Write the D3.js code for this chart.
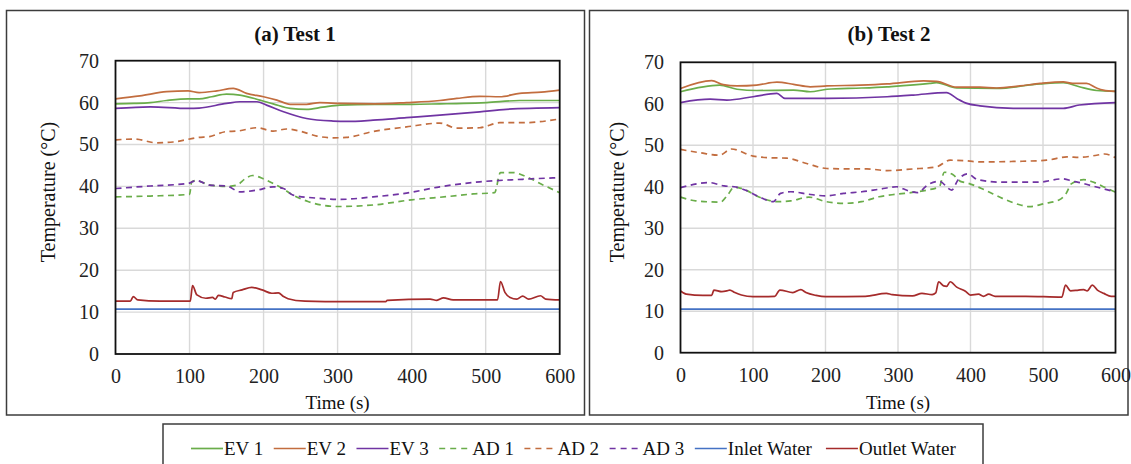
<!DOCTYPE html>
<html><head><meta charset="utf-8">
<script src="https://cdn.jsdelivr.net/npm/d3@7"></script>
<style>
html,body{margin:0;padding:0;background:#fff;}
svg{display:block;font-family:"Liberation Serif","Times New Roman",serif;}
</style></head>
<body><svg id="chart" width="1131" height="464"></svg>
<script>
// ---------- DATA ----------
const seriesNames = ["EV 1","EV 2","EV 3","AD 1","AD 2","AD 3","Inlet Water","Outlet Water"];
const xTicks = [0,100,200,300,400,500,600];
const yTicks = [0,10,20,30,40,50,60,70];
const panelTitles = ["(a) Test 1","(b) Test 2"];

// Test 1: [time (s), temperature (°C)]
const t1_EV1 = [[0,59.7],[25,59.8],[47,60.0],[69,60.5],[98,60.9],[113,60.9],[130,61.4],[150,62.0],[168,61.8],[195,60.6],[213,59.7],[236,58.6],[258,58.4],[280,58.9],[303,59.4],[350,59.6],[400,59.6],[438,59.7],[470,59.8],[501,60.0],[546,60.5],[600,60.5]];
const t1_EV2 = [[0,60.9],[33,61.6],[69,62.6],[98,62.8],[113,62.4],[137,62.8],[159,63.4],[177,62.2],[200,61.4],[218,60.6],[236,59.6],[258,59.6],[276,60.0],[303,59.8],[350,59.7],[393,60.0],[438,60.5],[461,61.0],[492,61.5],[519,61.4],[546,62.2],[575,62.5],[600,63.0]];
const t1_EV3 = [[0,58.6],[47,59.0],[98,58.6],[113,58.7],[150,59.8],[168,60.2],[191,60.2],[204,59.4],[227,57.8],[258,56.2],[294,55.6],[312,55.5],[348,55.8],[393,56.4],[438,57.0],[492,57.8],[528,58.4],[600,58.8]];
const t1_AD1 = [[0,37.5],[47,37.7],[100,38.1],[103,41.1],[109,41.4],[127,40.3],[150,40.0],[164,40.3],[175,41.8],[185,42.6],[200,41.8],[213,40.7],[226,39.5],[240,37.9],[260,36.4],[300,35.2],[350,35.6],[400,36.8],[450,37.6],[483,38.2],[512,38.5],[520,43.3],[537,43.3],[555,42.3],[578,40.3],[600,38.5]];
const t1_AD2 = [[0,51.1],[25,51.3],[56,50.4],[78,50.6],[113,51.7],[127,51.9],[150,53.1],[164,53.2],[191,54.0],[213,53.2],[231,53.7],[249,53.2],[272,52.0],[294,51.6],[312,51.7],[348,53.1],[393,54.2],[438,55.1],[461,53.9],[492,54.0],[519,55.2],[550,55.2],[600,56.1]];
const t1_AD3 = [[0,39.5],[47,40.1],[98,40.7],[109,41.4],[127,40.3],[150,40.1],[168,38.7],[191,39.1],[213,39.9],[227,39.5],[240,37.9],[272,37.2],[303,36.9],[348,37.5],[393,38.4],[438,39.9],[492,41.1],[550,41.7],[600,42.1]];
const t1_In  = [[0,10.7],[600,10.7]];
const t1_Out = [[0,12.6],[20,12.6],[24,13.7],[30,12.9],[60,12.6],[101,12.6],[104,16.3],[110,14.1],[122,13.3],[131,13.5],[135,13.1],[139,14.0],[148,13.6],[157,13.2],[159,14.7],[171,15.3],[184,15.9],[198,15.3],[211,14.5],[220,14.6],[227,13.7],[233,13.2],[256,12.6],[283,12.5],[365,12.5],[367,12.8],[425,13.1],[434,12.8],[443,13.4],[456,12.9],[516,12.9],[520,17.3],[526,14.7],[533,13.5],[542,13.1],[550,13.8],[558,13.1],[574,13.9],[581,13.1],[600,12.9]];

// Test 2
const t2_EV1 = [[0,62.9],[54,64.5],[78,63.5],[105,63.2],[156,63.3],[179,62.9],[202,63.5],[250,63.8],[285,64.1],[344,64.9],[353,65.1],[381,63.8],[436,63.7],[496,64.8],[528,65.1],[550,64.1],[574,63.2],[600,63.0]];
const t2_EV2 = [[0,63.7],[43,65.6],[59,64.6],[78,64.3],[105,64.5],[133,65.2],[156,64.7],[179,64.1],[202,64.3],[248,64.5],[285,64.8],[335,65.5],[353,65.4],[381,64.0],[413,64.0],[436,63.8],[468,64.3],[496,64.9],[528,65.3],[541,64.9],[560,64.9],[574,63.8],[583,63.3],[600,63.0]];
const t2_EV3 = [[0,60.3],[41,61.1],[64,60.9],[100,61.7],[133,62.5],[144,61.3],[202,61.3],[285,61.7],[321,62.1],[367,62.7],[381,61.3],[395,60.1],[413,59.5],[459,58.9],[528,58.9],[550,59.7],[600,60.3]];
const t2_AD1 = [[0,37.5],[21,36.6],[55,36.3],[65,38.0],[74,39.9],[84,39.6],[113,37.2],[133,36.4],[152,36.6],[177,37.5],[201,36.4],[225,36.0],[250,36.4],[274,37.6],[298,38.2],[323,38.7],[340,39.2],[357,40.0],[364,43.5],[376,42.9],[386,41.3],[396,40.9],[420,39.2],[444,37.2],[469,35.6],[481,35.2],[503,36.0],[522,36.8],[532,38.4],[539,40.7],[556,41.7],[571,41.0],[585,39.9],[600,38.7]];
const t2_AD2 = [[0,49.0],[27,48.2],[54,47.6],[70,49.1],[100,47.4],[123,47.0],[146,46.9],[174,45.6],[202,44.4],[230,44.3],[257,44.3],[285,43.9],[321,44.3],[353,44.8],[372,46.4],[390,46.3],[413,46.0],[459,46.1],[505,46.4],[533,47.2],[551,47.1],[574,47.6],[585,47.9],[600,47.0]];
const t2_AD3 = [[0,39.8],[40,41.0],[60,40.2],[74,40.0],[89,39.2],[108,37.6],[128,36.4],[138,38.4],[152,38.8],[177,38.2],[201,37.8],[225,38.4],[250,38.8],[274,39.4],[298,40.0],[313,39.1],[327,38.6],[342,40.6],[357,41.3],[374,39.2],[383,41.7],[396,43.1],[410,41.7],[444,41.1],[493,41.1],[527,41.9],[542,41.3],[551,41.0],[566,40.3],[581,39.6],[600,38.8]];
const t2_In  = [[0,10.5],[600,10.5]];
const t2_Out = [[0,14.9],[8,14.1],[31,13.8],[43,13.8],[46,15.1],[57,14.7],[64,14.9],[68,15.1],[75,14.5],[84,13.9],[100,13.5],[130,13.6],[137,15.1],[155,14.5],[166,15.2],[173,14.5],[187,13.8],[200,13.5],[255,13.6],[284,14.3],[292,14.0],[320,13.7],[333,14.3],[347,14.0],[352,14.4],[356,17.1],[363,16.1],[367,16.0],[372,17.1],[381,15.8],[393,14.8],[400,13.9],[411,14.1],[418,13.6],[425,14.1],[434,13.6],[476,13.6],[526,13.4],[531,16.3],[538,14.9],[549,15.1],[556,15.2],[561,14.9],[568,16.3],[575,15.1],[584,14.3],[594,13.6],[600,13.6]];

const test1 = [t1_EV1,t1_EV2,t1_EV3,t1_AD1,t1_AD2,t1_AD3,t1_In,t1_Out];
const test2 = [t2_EV1,t2_EV2,t2_EV3,t2_AD1,t2_AD2,t2_AD3,t2_In,t2_Out];

// ---------- STYLE ----------
const colors = ["#6aad4a","#c26d3f","#7034a3","#6aad4a","#c26d3f","#7034a3","#4472c4","#a52b2b"];
const dashed = [false,false,false,true,true,true,false,false];
const FONT = "'Liberation Serif', 'Times New Roman', serif";

const svg = d3.select("#chart");

const panels = [
  {box:[6.5,10.5,584.5,415], plot:[115.5,60.7,559.7,354], title:[295,41], ylab:48, data:test1},
  {box:[589.5,10.5,1128,415], plot:[680.5,62.3,1115.5,352.7], title:[889,41], ylab:617, data:test2}
];

panels.forEach((p,pi)=>{
  const g = svg.append("g");
  g.append("rect").attr("x",p.box[0]).attr("y",p.box[1])
    .attr("width",p.box[2]-p.box[0]).attr("height",p.box[3]-p.box[1])
    .attr("fill","none").attr("stroke","#3c3c3c").attr("stroke-width",1.5);

  const x = d3.scaleLinear().domain([0,600]).range([p.plot[0],p.plot[2]]);
  const y = d3.scaleLinear().domain([0,70]).range([p.plot[3],p.plot[1]]);

  // grid
  g.append("g").selectAll("line").data(xTicks.slice(1,-1)).join("line")
    .attr("x1",d=>x(d)).attr("x2",d=>x(d)).attr("y1",y(0)).attr("y2",y(70))
    .attr("stroke","#d9d9d9").attr("stroke-width",1.4);
  g.append("g").selectAll("line").data(yTicks.slice(1,-1)).join("line")
    .attr("y1",d=>y(d)).attr("y2",d=>y(d)).attr("x1",x(0)).attr("x2",x(600))
    .attr("stroke","#d9d9d9").attr("stroke-width",1.4);

  // axes (labels only)
  const xa = g.append("g").attr("transform",`translate(0,${y(0)})`)
    .call(d3.axisBottom(x).tickValues(xTicks).tickSize(0).tickPadding(15));
  const ya = g.append("g").attr("transform",`translate(${x(0)},0)`)
    .call(d3.axisLeft(y).tickValues(yTicks).tickSize(0).tickPadding(16.5));
  [xa,ya].forEach(a=>{
    a.attr("font-family",FONT).attr("font-size",20);
    a.select(".domain").remove();
    a.selectAll("text").attr("fill","#222");
  });

  // series
  const line = d3.line().x(d=>x(d[0])).y(d=>y(d[1])).curve(d3.curveMonotoneX);
  p.data.forEach((s,i)=>{
    g.append("path").datum(s).attr("d",line).attr("fill","none")
      .attr("stroke",colors[i]).attr("stroke-width",1.7)
      .attr("stroke-dasharray",dashed[i]?"6,4.5":null)
      .attr("stroke-linejoin","round");
  });

  // plot border
  g.append("rect").attr("x",x(0)).attr("y",y(70))
    .attr("width",x(600)-x(0)).attr("height",y(0)-y(70))
    .attr("fill","none").attr("stroke","#111").attr("stroke-width",1.8);

  // titles
  g.append("text").attr("x",p.title[0]).attr("y",p.title[1]).attr("text-anchor","middle")
    .attr("font-family",FONT).attr("font-size",21).attr("font-weight","bold").attr("fill","#111").text(panelTitles[pi]);
  g.append("text").attr("x",(x(0)+x(600))/2).attr("y",409).attr("text-anchor","middle")
    .attr("font-family",FONT).attr("font-size",19).attr("fill","#111").text("Time (s)");
  g.append("text").attr("transform",`translate(${p.ylab},192) rotate(-90)`)
    .attr("text-anchor","middle").attr("dy","0.35em")
    .attr("font-family",FONT).attr("font-size",20).attr("fill","#111").text("Temperature (°C)");
});

// ---------- LEGEND ----------
const lg = svg.append("g");
lg.append("rect").attr("x",163).attr("y",424).attr("width",820).attr("height",60)
  .attr("fill","#fff").attr("stroke","#3c3c3c").attr("stroke-width",1.5);
let cx = 191;
seriesNames.forEach((n,i)=>{
  lg.append("line").attr("x1",cx).attr("x2",cx+32).attr("y1",448.5).attr("y2",448.5)
    .attr("stroke",colors[i]).attr("stroke-width",1.7)
    .attr("stroke-dasharray",dashed[i]?"6,5":null);
  const t = lg.append("text").attr("x",cx+33).attr("y",455)
    .attr("font-family",FONT).attr("font-size",19)
    .attr("fill","#111").text(n);
  const w = t.node().getComputedTextLength();
  cx += 33 + w + (i===6?14:10.5);
});
</script></body></html>
